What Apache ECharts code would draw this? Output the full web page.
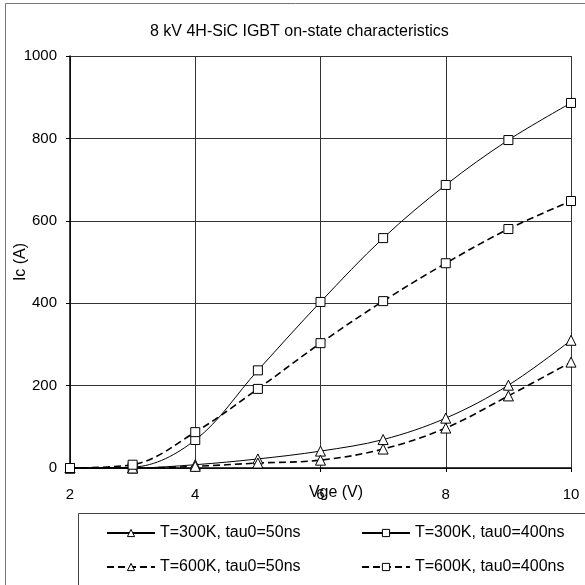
<!DOCTYPE html>
<html>
<head>
<meta charset="utf-8">
<script src="https://cdn.jsdelivr.net/npm/echarts@6/dist/echarts.min.js"></script>
<style>html,body{margin:0;padding:0;background:#fff}#c{width:585px;height:585px}</style>
</head>
<body>
<div id="c"></div>
<script>
var titleText = '8 kV 4H-SiC IGBT on-state characteristics';
var xName = 'Vge (V)';
var yName = 'Ic (A)';
var vge = [2, 3, 4, 5, 6, 7, 8, 9, 10];
var s300_50 = [0, 0, 8, 22, 41, 69, 121, 201, 310];
var s300_400 = [0, 2, 68, 237, 403, 558, 687, 796, 886];
var s600_50 = [0, 0, 4, 12, 19, 46, 97, 175, 257];
var s600_400 = [0, 8, 87, 192, 303, 405, 497, 580, 648];
var names = ['T=300K, tau0=50ns', 'T=300K, tau0=400ns', 'T=600K, tau0=50ns', 'T=600K, tau0=400ns'];

function pairs(ys) { return vge.map(function (x, i) { return [x, ys[i]]; }); }

var font = 'Liberation Sans, Arial, sans-serif';
function mk(name, ys, dashed, sym) {
  return {
    name: name, type: 'line', data: pairs(ys), smooth: 0.35,
    symbol: sym, symbolSize: sym === 'rect' ? 9 : 10,
    itemStyle: { color: '#fff', borderColor: '#000', borderWidth: 1 },
    lineStyle: { color: '#000', width: dashed ? 1.6 : 1, type: dashed ? [7, 4] : 'solid' },
    emphasis: { disabled: true }
  };
}
function leg(name, left, top) {
  return {
    data: [name], left: left, top: top, itemWidth: 48, itemHeight: 9, itemGap: 0,
    padding: 0, textStyle: { fontFamily: font, fontSize: 16, color: '#000' },
    itemStyle: { borderWidth: 1 },
    selectedMode: false
  };
}
var chart = echarts.init(document.getElementById('c'), null, { renderer: 'canvas' });
chart.setOption({
  animation: false,
  backgroundColor: '#fff',
  title: { text: titleText, left: 150, top: 24, padding: 0,
    textStyle: { fontFamily: font, fontSize: 16, fontWeight: 'normal', color: '#000' } },
  grid: { left: 70, right: 14, top: 56, bottom: 117, containLabel: false },
  legend: [
    leg(names[0], 106, 525), leg(names[1], 361, 525),
    leg(names[2], 106, 559), leg(names[3], 361, 559)
  ],
  xAxis: {
    type: 'value', min: 2, max: 10, interval: 2,
    name: xName, nameLocation: 'middle', nameGap: 17, nameMoveOverlap: false,
    nameTextStyle: { fontFamily: font, fontSize: 16, color: '#000', padding: [0, 0, 0, 31] },
    axisLine: { lineStyle: { color: '#000', width: 1.5 } },
    axisTick: { show: true, length: 4, lineStyle: { color: '#000' } },
    axisLabel: { fontFamily: font, fontSize: 15, color: '#000', margin: 19 },
    splitLine: { show: true, lineStyle: { color: '#333', width: 1 } }
  },
  yAxis: {
    type: 'value', min: 0, max: 1000, interval: 200,
    name: yName, nameLocation: 'middle', nameGap: 41, nameRotate: 90, nameMoveOverlap: false,
    nameTextStyle: { fontFamily: font, fontSize: 16, color: '#000' },
    axisLine: { show: true, lineStyle: { color: '#000', width: 1.5 } },
    axisTick: { show: true, length: 4, lineStyle: { color: '#000' } },
    axisLabel: { fontFamily: font, fontSize: 15, color: '#000', margin: 13,
      formatter: function (v) { return String(v); } },
    splitLine: { show: true, lineStyle: { color: '#333', width: 1 } }
  },
  graphic: [
    { type: 'rect', shape: { x: 5.5, y: 3.5, width: 600, height: 600 },
      style: { fill: 'none', stroke: '#777', lineWidth: 1 }, silent: true, z: -1 },
    { type: 'rect', shape: { x: 78.5, y: 513.5, width: 520, height: 100 },
      style: { fill: 'none', stroke: '#444', lineWidth: 1 }, silent: true }
  ],
  series: [
    mk(names[0], s300_50, false, 'triangle'),
    mk(names[1], s300_400, false, 'rect'),
    mk(names[2], s600_50, true, 'triangle'),
    mk(names[3], s600_400, true, 'rect')
  ]
});
</script>
</body>
</html>
